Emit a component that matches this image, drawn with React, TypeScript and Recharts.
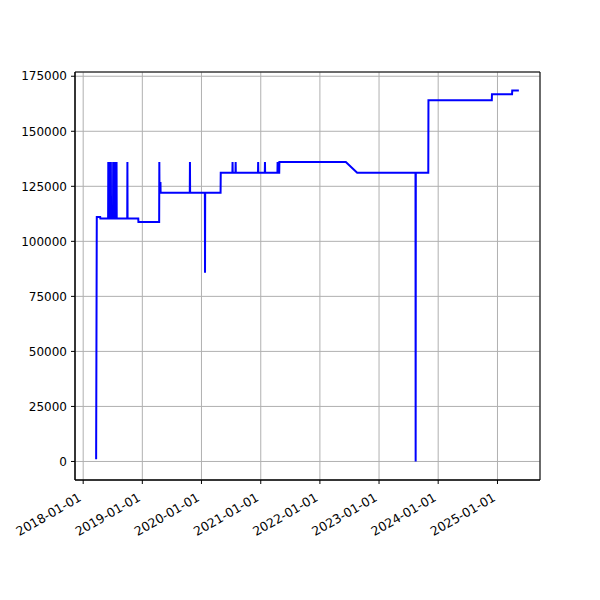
import { LineChart, Line, XAxis, YAxis, CartesianGrid, ReferenceArea } from 'recharts';

// daily values, only the change points are kept
const DATES = [
  '2018-03-22', '2018-03-26', '2018-04-16', '2018-04-17',
  '2018-06-04', '2018-06-05', '2018-06-06', '2018-06-08', '2018-06-09', '2018-06-10',
  '2018-06-12', '2018-06-13', '2018-06-14', '2018-06-16', '2018-06-17', '2018-06-18',
  '2018-06-20', '2018-06-21', '2018-06-22',
  '2018-07-04', '2018-07-05', '2018-07-06', '2018-07-08', '2018-07-09', '2018-07-10',
  '2018-07-12', '2018-07-13', '2018-07-14', '2018-07-16', '2018-07-17', '2018-07-18',
  '2018-07-20', '2018-07-21', '2018-07-22', '2018-07-25', '2018-07-26', '2018-07-27',
  '2018-09-30', '2018-10-01', '2018-10-02', '2018-12-07', '2018-12-08',
  '2019-04-15', '2019-04-16', '2019-04-17', '2019-04-22', '2019-04-23', '2019-04-24',
  '2019-10-21', '2019-10-22', '2019-10-23',
  '2020-01-22', '2020-01-23', '2020-01-24', '2020-04-28', '2020-04-29',
  '2020-07-10', '2020-07-11', '2020-07-12', '2020-07-29', '2020-07-30', '2020-07-31',
  '2020-12-15', '2020-12-16', '2020-12-17', '2021-01-26', '2021-01-27', '2021-01-28',
  '2021-04-14', '2021-04-15', '2021-04-16', '2021-04-25', '2021-04-26',
  '2022-06-10', '2022-08-19', '2023-08-14', '2023-08-15', '2023-08-16',
  '2023-11-01', '2023-11-02', '2024-11-27', '2024-11-28',
  '2025-04-01', '2025-04-02', '2025-05-13',
];

const VALUES = [
  1000, 111100, 111100, 110400,
  110400, 136000, 110400, 110400, 136000, 110400,
  110400, 136000, 110400, 110400, 136000, 110400,
  110400, 136000, 110400,
  110400, 136000, 110400, 110400, 136000, 110400,
  110400, 136000, 110400, 110400, 136000, 110400,
  110400, 136000, 110400, 110400, 136000, 110400,
  110400, 136000, 110400, 110400, 108800,
  108800, 136000, 122100, 122100, 127000, 122100,
  122100, 136000, 122100,
  122100, 85700, 122100, 122100, 131200,
  131200, 136000, 131200, 131200, 136000, 131200,
  131200, 136000, 131200, 131200, 136000, 131200,
  131200, 136000, 131200, 131200, 136000,
  136000, 131200, 131200, 0, 131200,
  131200, 164100, 164100, 166800,
  166800, 168500, 168500,
];

const X_TICKS = [
  '2018-01-01', '2019-01-01', '2020-01-01', '2021-01-01',
  '2022-01-01', '2023-01-01', '2024-01-01', '2025-01-01',
];
const Y_TICKS = [0, 25000, 50000, 75000, 100000, 125000, 150000, 175000];

const toMs = (d: string) => Date.parse(d + 'T00:00:00Z');

const data = DATES.map((d, i) => ({ t: toMs(d), v: VALUES[i] }));

// matplotlib-style 5% margins
const tMin = data[0].t;
const tMax = data[data.length - 1].t;
const xPad = (tMax - tMin) * 0.05;
const X_DOMAIN = [tMin - xPad, tMax + xPad];
const vMin = Math.min(...VALUES);
const vMax = Math.max(...VALUES);
const yPad = (vMax - vMin) * 0.05;
const Y_DOMAIN = [vMin - yPad, vMax + yPad];

const FONT = 'DejaVu Sans, sans-serif';

function DateTick({ x, y, payload }: any) {
  const label = new Date(payload.value).toISOString().slice(0, 10);
  const bx = x - 1;
  const by = y + 12;
  return (
    <text
      x={bx}
      y={by}
      transform={`rotate(-30, ${bx}, ${by})`}
      textAnchor="end"
      fontSize={12.5}
      fontFamily={FONT}
      fill="#000"
    >
      {label}
    </text>
  );
}

export default function App() {
  return (
    <div style={{ position: 'absolute', left: 0, top: 0, width: 600, height: 600, background: '#fff' }}>
      <LineChart
        width={600}
        height={600}
        data={data}
        margin={{ top: 72, right: 60, bottom: 20, left: 0 }}
      >
        <CartesianGrid stroke="#b0b0b0" strokeWidth={1} />
        <XAxis
          dataKey="t"
          type="number"
          domain={X_DOMAIN}
          ticks={X_TICKS.map(toMs)}
          allowDataOverflow
          height={100}
          tickSize={4}
          tickMargin={4}
          axisLine={{ stroke: '#000' }}
          tickLine={{ stroke: '#000' }}
          tick={<DateTick />}
          interval={0}
        />
        <YAxis
          type="number"
          domain={Y_DOMAIN}
          ticks={Y_TICKS}
          allowDataOverflow
          width={75}
          tickSize={4}
          tickMargin={4}
          axisLine={{ stroke: '#000' }}
          tickLine={{ stroke: '#000' }}
          tick={{ fontSize: 12, fontFamily: FONT, fill: '#000' }}
          interval={0}
        />
        <Line
          type="linear"
          dataKey="v"
          stroke="#0000ff"
          strokeWidth={2}
          dot={false}
          isAnimationActive={false}
        />
        <ReferenceArea
          x1={X_DOMAIN[0]}
          x2={X_DOMAIN[1]}
          y1={Y_DOMAIN[0]}
          y2={Y_DOMAIN[1]}
          fill="none"
          fillOpacity={0}
          stroke="#000"
          strokeWidth={1}
          ifOverflow="visible"
        />
      </LineChart>
    </div>
  );
}
